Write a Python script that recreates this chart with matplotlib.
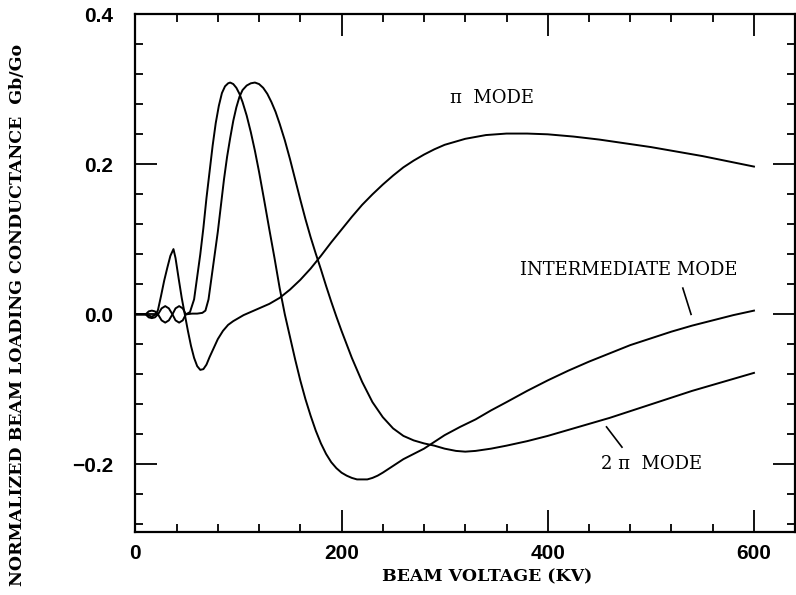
import matplotlib

matplotlib.use("Agg")

import matplotlib.pyplot as plt
from matplotlib.ticker import MultipleLocator

# beam voltage (kV) and normalized conductance Gb/Go
pi_kv = [0, 10, 16, 20, 22, 25, 28, 31, 34, 37, 39, 42, 45, 48, 51, 54, 57, 60,
         63, 66, 69, 72, 76, 80, 85, 90, 95, 100, 105, 110, 115, 120, 130, 140,
         150, 160, 170, 180, 190, 200, 210, 220, 230, 240, 250, 260, 270, 280,
         290, 300, 320, 340, 360, 380, 400, 425, 450, 475, 500, 525, 550, 575,
         600]
pi_g = [0, 0, -0.003, 0.0, 0.006, 0.025, 0.045, 0.062, 0.078, 0.087, 0.075,
        0.048, 0.022, 0.0, -0.022, -0.042, -0.058, -0.069, -0.074, -0.073,
        -0.067, -0.057, -0.045, -0.033, -0.022, -0.014, -0.009, -0.005, -0.001,
        0.002, 0.005, 0.008, 0.014, 0.022, 0.033, 0.046, 0.061, 0.078, 0.096,
        0.113, 0.13, 0.146, 0.16, 0.173, 0.185, 0.196, 0.205, 0.213, 0.22,
        0.226, 0.234, 0.239, 0.241, 0.241, 0.24, 0.237, 0.233, 0.228, 0.223,
        0.217, 0.211, 0.204, 0.197]

inter_kv = [0, 10, 13, 16, 19, 22, 25.5, 29, 32.5, 36, 39, 42.5, 46, 49, 53, 57,
            60, 63, 66, 69, 72, 75, 78, 81, 84, 87, 90, 92, 95, 98, 101, 104,
            108, 112, 116, 120, 125, 130, 135, 140, 145, 150, 155, 160, 165, 170,
            175, 180, 185, 190, 195, 200, 205, 210, 215, 220, 225, 230, 235, 240,
            250, 260, 270, 280, 290, 300, 315, 330, 345, 360, 380, 400, 420, 440,
            460, 480, 500, 520, 540, 560, 580, 600]
inter_g = [0, 0, -0.004, -0.005, -0.004, 0, 0.008, 0.011, 0.008, 0, -0.008,
           -0.011, -0.008, 0, 0.003, 0.02, 0.05, 0.08, 0.115, 0.155, 0.19,
           0.225, 0.255, 0.278, 0.295, 0.304, 0.308, 0.309, 0.307, 0.302, 0.294,
           0.283, 0.265, 0.243, 0.218, 0.19, 0.152, 0.113, 0.075, 0.035, 0.0,
           -0.03, -0.06, -0.088, -0.113, -0.135, -0.155, -0.172, -0.186, -0.197,
           -0.205, -0.211, -0.215, -0.218, -0.22, -0.22, -0.22, -0.218, -0.215,
           -0.211, -0.202, -0.193, -0.186, -0.179, -0.17, -0.161, -0.15, -0.14,
           -0.128, -0.117, -0.102, -0.088, -0.075, -0.063, -0.052, -0.041,
           -0.032, -0.023, -0.015, -0.008, -0.001, 0.005]

twopi_kv = [0, 10, 13, 16, 19, 22, 25.5, 29, 32.5, 36, 39, 42.5, 46, 49, 55, 60,
            65, 68, 71, 74, 77, 80, 83, 86, 89, 92, 95, 98, 101, 104, 108, 112,
            116, 120, 124, 128, 132, 136, 140, 145, 150, 155, 160, 165, 170, 175,
            180, 185, 190, 195, 200, 210, 220, 230, 240, 250, 260, 270, 280, 290,
            300, 311, 320, 330, 345, 360, 380, 400, 420, 440, 460, 480, 500, 520,
            540, 560, 580, 600]
twopi_g = [0, 0, 0.004, 0.005, 0.004, 0, -0.008, -0.011, -0.008, 0, 0.008,
           0.011, 0.008, 0, 0.001, 0.001, 0.002, 0.005, 0.02, 0.05, 0.08, 0.11,
           0.145, 0.18, 0.21, 0.235, 0.258, 0.276, 0.29, 0.299, 0.305, 0.308,
           0.309, 0.307, 0.302, 0.294, 0.283, 0.27, 0.254, 0.232, 0.207, 0.18,
           0.153, 0.127, 0.103, 0.081, 0.06, 0.038, 0.017, -0.003, -0.022,
           -0.058, -0.09, -0.117, -0.137, -0.152, -0.162, -0.168, -0.172,
           -0.175, -0.179, -0.182, -0.183, -0.182, -0.179, -0.175, -0.169,
           -0.162, -0.154, -0.146, -0.138, -0.129, -0.12, -0.111, -0.102,
           -0.094, -0.086, -0.078]

serif = {"family": "DejaVu Serif", "weight": "bold"}

fig = plt.figure(figsize=(7.96, 5.95), dpi=100)
ax = fig.add_axes([0.170, 0.106, 0.829, 0.870])

for xs, ys in [(pi_kv, pi_g), (inter_kv, inter_g), (twopi_kv, twopi_g)]:
    ax.plot(xs, ys, color="black", lw=1.4)

ax.set_xlim(0, 640)
ax.set_ylim(-0.29, 0.4)
ax.xaxis.set_major_locator(MultipleLocator(200))
ax.xaxis.set_minor_locator(MultipleLocator(40))
ax.yaxis.set_major_locator(MultipleLocator(0.2))
ax.yaxis.set_minor_locator(MultipleLocator(0.04))
ax.tick_params(which="both", direction="in", top=True, right=True, width=1.3,
               labelsize=15)
ax.tick_params(axis="x", pad=9)
ax.tick_params(axis="y", pad=16)
ax.tick_params(which="major", length=16)
ax.tick_params(which="minor", length=6)
ax.set_yticks([-0.2, 0.0, 0.2, 0.4])
ax.set_yticklabels(["\u22120.2", "0.0", "0.2", "0.4"])
ax.set_xticks([0, 200, 400, 600])
for lab in ax.get_xticklabels() + ax.get_yticklabels():
    lab.set_fontfamily("Liberation Sans")
    lab.set_fontweight("bold")
for sp in ax.spines.values():
    sp.set_linewidth(1.6)

fig.text(0.022, 0.47, "NORMALIZED BEAM LOADING CONDUCTANCE  Gb/Go",
         rotation=90, ha="center", va="center", fontsize=12.5, **serif)
fig.text(0.612, 0.03, "BEAM VOLTAGE (KV)", ha="center", va="center",
         fontsize=12.5, **serif)

ann = {"family": "DejaVu Serif", "fontsize": 13}
ax.text(305, 0.288, "\u03c0  MODE", ha="left", va="center", **ann)
ax.text(373, 0.059, "INTERMEDIATE MODE", ha="left", va="center", **ann)
ax.text(452, -0.2, "2 \u03c0  MODE", ha="left", va="center", **ann)
ax.plot([531, 539], [0.035, 0.0], color="black", lw=1.2)
ax.plot([457, 472], [-0.15, -0.177], color="black", lw=1.2)

fig.savefig("out.png", dpi=100)
